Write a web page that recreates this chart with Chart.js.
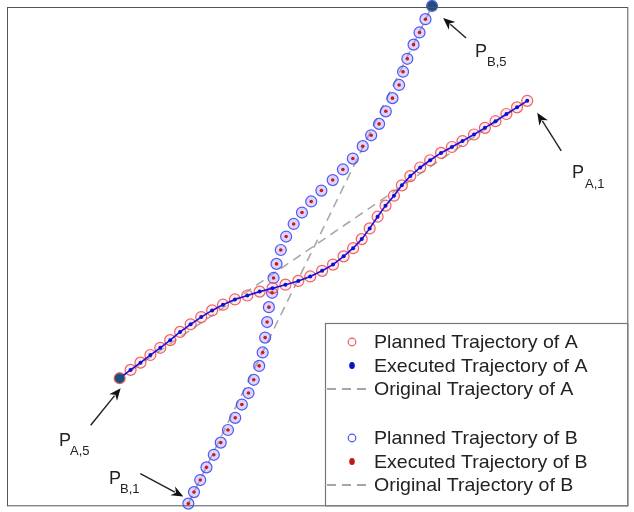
<!DOCTYPE html>
<html>
<head>
<meta charset="utf-8">
<script src="https://cdn.jsdelivr.net/npm/chart.js@4.4.1/dist/chart.umd.min.js"></script>
<style>
  html, body { margin: 0; padding: 0; background: #fff; }
  #wrap { width: 634px; height: 512px; }
</style>
</head>
<body>
<div id="wrap"><canvas id="traj" width="634" height="512"></canvas></div>
<script>
// trajectory of A, x right / y up
const plannedAX = [113.7, 124.7, 134.7, 144.7, 154.7, 164.7, 174.7, 185.3, 196, 207, 218, 230, 242.5, 255, 268, 281, 294, 306, 318, 329, 339.7, 349.3, 358, 366, 374, 382, 390.5, 398.5, 407, 417, 427, 438, 449, 459.7, 471.3, 482.3, 493, 504, 514.7, 525];
const plannedAY = [128.3, 136.7, 144, 151.7, 159, 166.7, 175, 182.7, 190, 196.7, 202.5, 207.8, 211.8, 215.7, 219.2, 222.7, 226.5, 231, 236.7, 243, 251.3, 259.5, 268.7, 279.5, 291.3, 302.5, 312.5, 323, 332.3, 341, 348.3, 355.7, 361.7, 367.7, 374.3, 381, 387.7, 395, 401.7, 408.3];
const executedAX = plannedAX.slice();
const executedAY = plannedAY.slice();
const originalAX = [113.7, 525];
const originalAY = [128.3, 408.3];

// trajectory of B
const plannedBX = [183, 188.7, 195, 201.3, 208.7, 215.7, 223, 230.3, 237, 243.7, 249, 254.5, 258, 260.5, 262.5, 264.3, 267.5, 269, 272, 276.3, 281.7, 289.3, 297.7, 307, 317.3, 328.7, 339, 349, 359, 367.5, 375.5, 382.3, 389, 395.7, 399.7, 404, 410.3, 416.3, 422.3, 429];
const plannedBY = [1.7, 13.3, 25.5, 38.3, 51, 63.3, 76, 88.3, 101.7, 113.3, 126.7, 140.7, 154.3, 169.3, 185, 200, 214.5, 229.5, 243.7, 257.7, 271.3, 284, 295.5, 306.7, 317.7, 328.3, 339, 350, 362.5, 373.5, 385, 397.7, 411, 424.3, 437.7, 450.7, 465, 477.3, 490.7, 504];
const executedBX = plannedBX.slice();
const executedBY = plannedBY.slice();
const originalBX = [183, 429];
const originalBY = [1.7, 504];

// marked end points
const endNames = ['A,5', 'A,1', 'B,1', 'B,5'];
const endX = [113.7, 525, 183, 429];
const endY = [128.3, 408.3, 1.7, 504];

const legendLabels = ['Planned Trajectory of A', 'Executed Trajectory of A', 'Original Trajectory of A',
                      'Planned Trajectory of B', 'Executed Trajectory of B', 'Original Trajectory of B'];

function pts(xs, ys) { return xs.map((x, i) => ({ x: x, y: ys[i] })); }

const datasets = [
  { label: legendLabels[2], data: pts(originalAX, originalAY), showLine: true, borderColor: '#a9a9a9', borderWidth: 1.6, borderDash: [9, 6], pointRadius: 0, order: 4 },
  { label: legendLabels[5], data: pts(originalBX, originalBY), showLine: true, borderColor: '#a9a9a9', borderWidth: 1.6, borderDash: [9, 6], pointRadius: 0, order: 4 },
  { label: legendLabels[0], data: pts(plannedAX, plannedAY), showLine: false, pointRadius: 5.5, borderWidth: 1.2, pointBorderColor: 'rgba(240,70,70,0.85)', pointBackgroundColor: 'rgba(255,170,170,0.25)', order: 3 },
  { label: legendLabels[3], data: pts(plannedBX, plannedBY), showLine: false, pointRadius: 5.5, borderWidth: 1.2, pointBorderColor: 'rgba(60,60,240,0.85)', pointBackgroundColor: 'rgba(140,140,255,0.35)', order: 3 },
  { label: legendLabels[1], data: pts(executedAX, executedAY), showLine: true, borderColor: '#1414e6', borderWidth: 1.6, pointRadius: 2, pointBorderWidth: 0, pointBackgroundColor: '#1010d0', order: 2 },
  { label: legendLabels[4], data: pts(executedBX, executedBY), showLine: false, pointRadius: 1.8, pointBorderWidth: 0, pointBackgroundColor: '#d01818', order: 2 },
  { label: 'ends', data: [{ x: endX[0], y: endY[0] }, { x: endX[3], y: endY[3] }], showLine: false, pointRadius: 5, pointBorderWidth: 0, pointBackgroundColor: '#1d4f7c', order: 1 }
];

// label placement around each end point: arrow tip / tail and text, in pixels from the point
const notes = [
  { i: 0, tip: [1, 10], tail: [-29, 47], p: [59, 446], s: [70, 455] },
  { i: 1, tip: [10, 12], tail: [34, 50], p: [572, 178], s: [585, 188] },
  { i: 2, tip: [-5, -7], tail: [-48, -30], p: [109, 484], s: [120, 493] },
  { i: 3, tip: [11, 12], tail: [34, 32], p: [475, 57], s: [487, 66] }
];

function arrow(ctx, x0, y0, x1, y1) {
  const a = Math.atan2(y1 - y0, x1 - x0);
  const len = 12, hw = 5;
  ctx.beginPath();
  ctx.moveTo(x0, y0);
  ctx.lineTo(x1 - Math.cos(a) * len * 0.8, y1 - Math.sin(a) * len * 0.8);
  ctx.stroke();
  ctx.beginPath();
  ctx.moveTo(x1, y1);
  ctx.lineTo(x1 - Math.cos(a) * len - Math.sin(a) * hw, y1 - Math.sin(a) * len + Math.cos(a) * hw);
  ctx.lineTo(x1 - Math.cos(a) * len * 0.7, y1 - Math.sin(a) * len * 0.7);
  ctx.lineTo(x1 - Math.cos(a) * len + Math.sin(a) * hw, y1 - Math.sin(a) * len - Math.cos(a) * hw);
  ctx.closePath();
  ctx.fill();
}

const overlay = {
  id: 'overlay',
  afterDatasetsDraw(chart) {
    const ctx = chart.ctx, area = chart.chartArea;
    const sx = chart.scales.x, sy = chart.scales.y;
    ctx.save();
    // frame
    ctx.strokeStyle = '#555';
    ctx.lineWidth = 1;
    ctx.strokeRect(area.left + 0.5, area.top + 0.5, area.right - area.left, area.bottom - area.top);

    // annotations
    ctx.strokeStyle = '#222';
    ctx.lineWidth = 1.4;
    notes.forEach(n => {
      const px = sx.getPixelForValue(endX[n.i]);
      const py = sy.getPixelForValue(endY[n.i]);
      ctx.fillStyle = '#111';
      arrow(ctx, px + n.tail[0], py + n.tail[1], px + n.tip[0], py + n.tip[1]);
      ctx.fillStyle = '#222';
      ctx.textBaseline = 'alphabetic';
      ctx.font = '18px "Liberation Sans", Arial, sans-serif';
      ctx.fillText('P', n.p[0], n.p[1]);
      ctx.font = '13px "Liberation Sans", Arial, sans-serif';
      ctx.fillText(endNames[n.i], n.s[0], n.s[1]);
    });

    // legend box
    const lx = 325, ly = 323;
    ctx.fillStyle = '#fff';
    ctx.fillRect(lx, ly, area.right - lx, area.bottom - ly);
    ctx.strokeStyle = '#777';
    ctx.lineWidth = 1.2;
    ctx.strokeRect(lx + 0.5, ly + 0.5, area.right - lx, area.bottom - ly);
    const rows = [342, 365.5, 389, 438, 461.5, 485];
    const mx = 352;
    ctx.font = '19px "Liberation Sans", Arial, sans-serif';
    ctx.textBaseline = 'middle';
    rows.forEach((ry, k) => {
      const kind = k % 3, isA = k < 3;
      if (kind === 0) {
        ctx.beginPath();
        ctx.arc(mx, ry, 3.8, 0, Math.PI * 2);
        ctx.strokeStyle = isA ? 'rgba(240,70,70,0.9)' : 'rgba(60,60,240,0.9)';
        ctx.lineWidth = 1.2;
        ctx.stroke();
      } else if (kind === 1) {
        ctx.beginPath();
        ctx.ellipse(mx, ry, 2.8, 3.5, 0, 0, Math.PI * 2);
        ctx.fillStyle = isA ? '#1010c0' : '#c01818';
        ctx.fill();
      } else {
        ctx.beginPath();
        ctx.setLineDash([9, 6]);
        ctx.strokeStyle = '#888';
        ctx.lineWidth = 1.6;
        ctx.moveTo(327, ry);
        ctx.lineTo(372, ry);
        ctx.stroke();
        ctx.setLineDash([]);
      }
      ctx.fillStyle = '#222';
      ctx.save();
      ctx.translate(374, ry + 1);
      ctx.scale(1.03, 1);
      ctx.fillText(legendLabels[k], 0, 0);
      ctx.restore();
    });
    ctx.restore();
  }
};

new Chart(document.getElementById('traj').getContext('2d'), {
  type: 'scatter',
  data: { datasets: datasets },
  options: {
    responsive: false,
    animation: false,
    clip: false,
    layout: { padding: { left: 7, top: 7, right: 1, bottom: 2 } },
    scales: {
      x: { type: 'linear', min: 0, max: 626, display: false },
      y: { type: 'linear', min: 0, max: 503, display: false }
    },
    plugins: { legend: { display: false }, tooltip: { enabled: false } }
  },
  plugins: [overlay]
});
</script>
</body>
</html>
